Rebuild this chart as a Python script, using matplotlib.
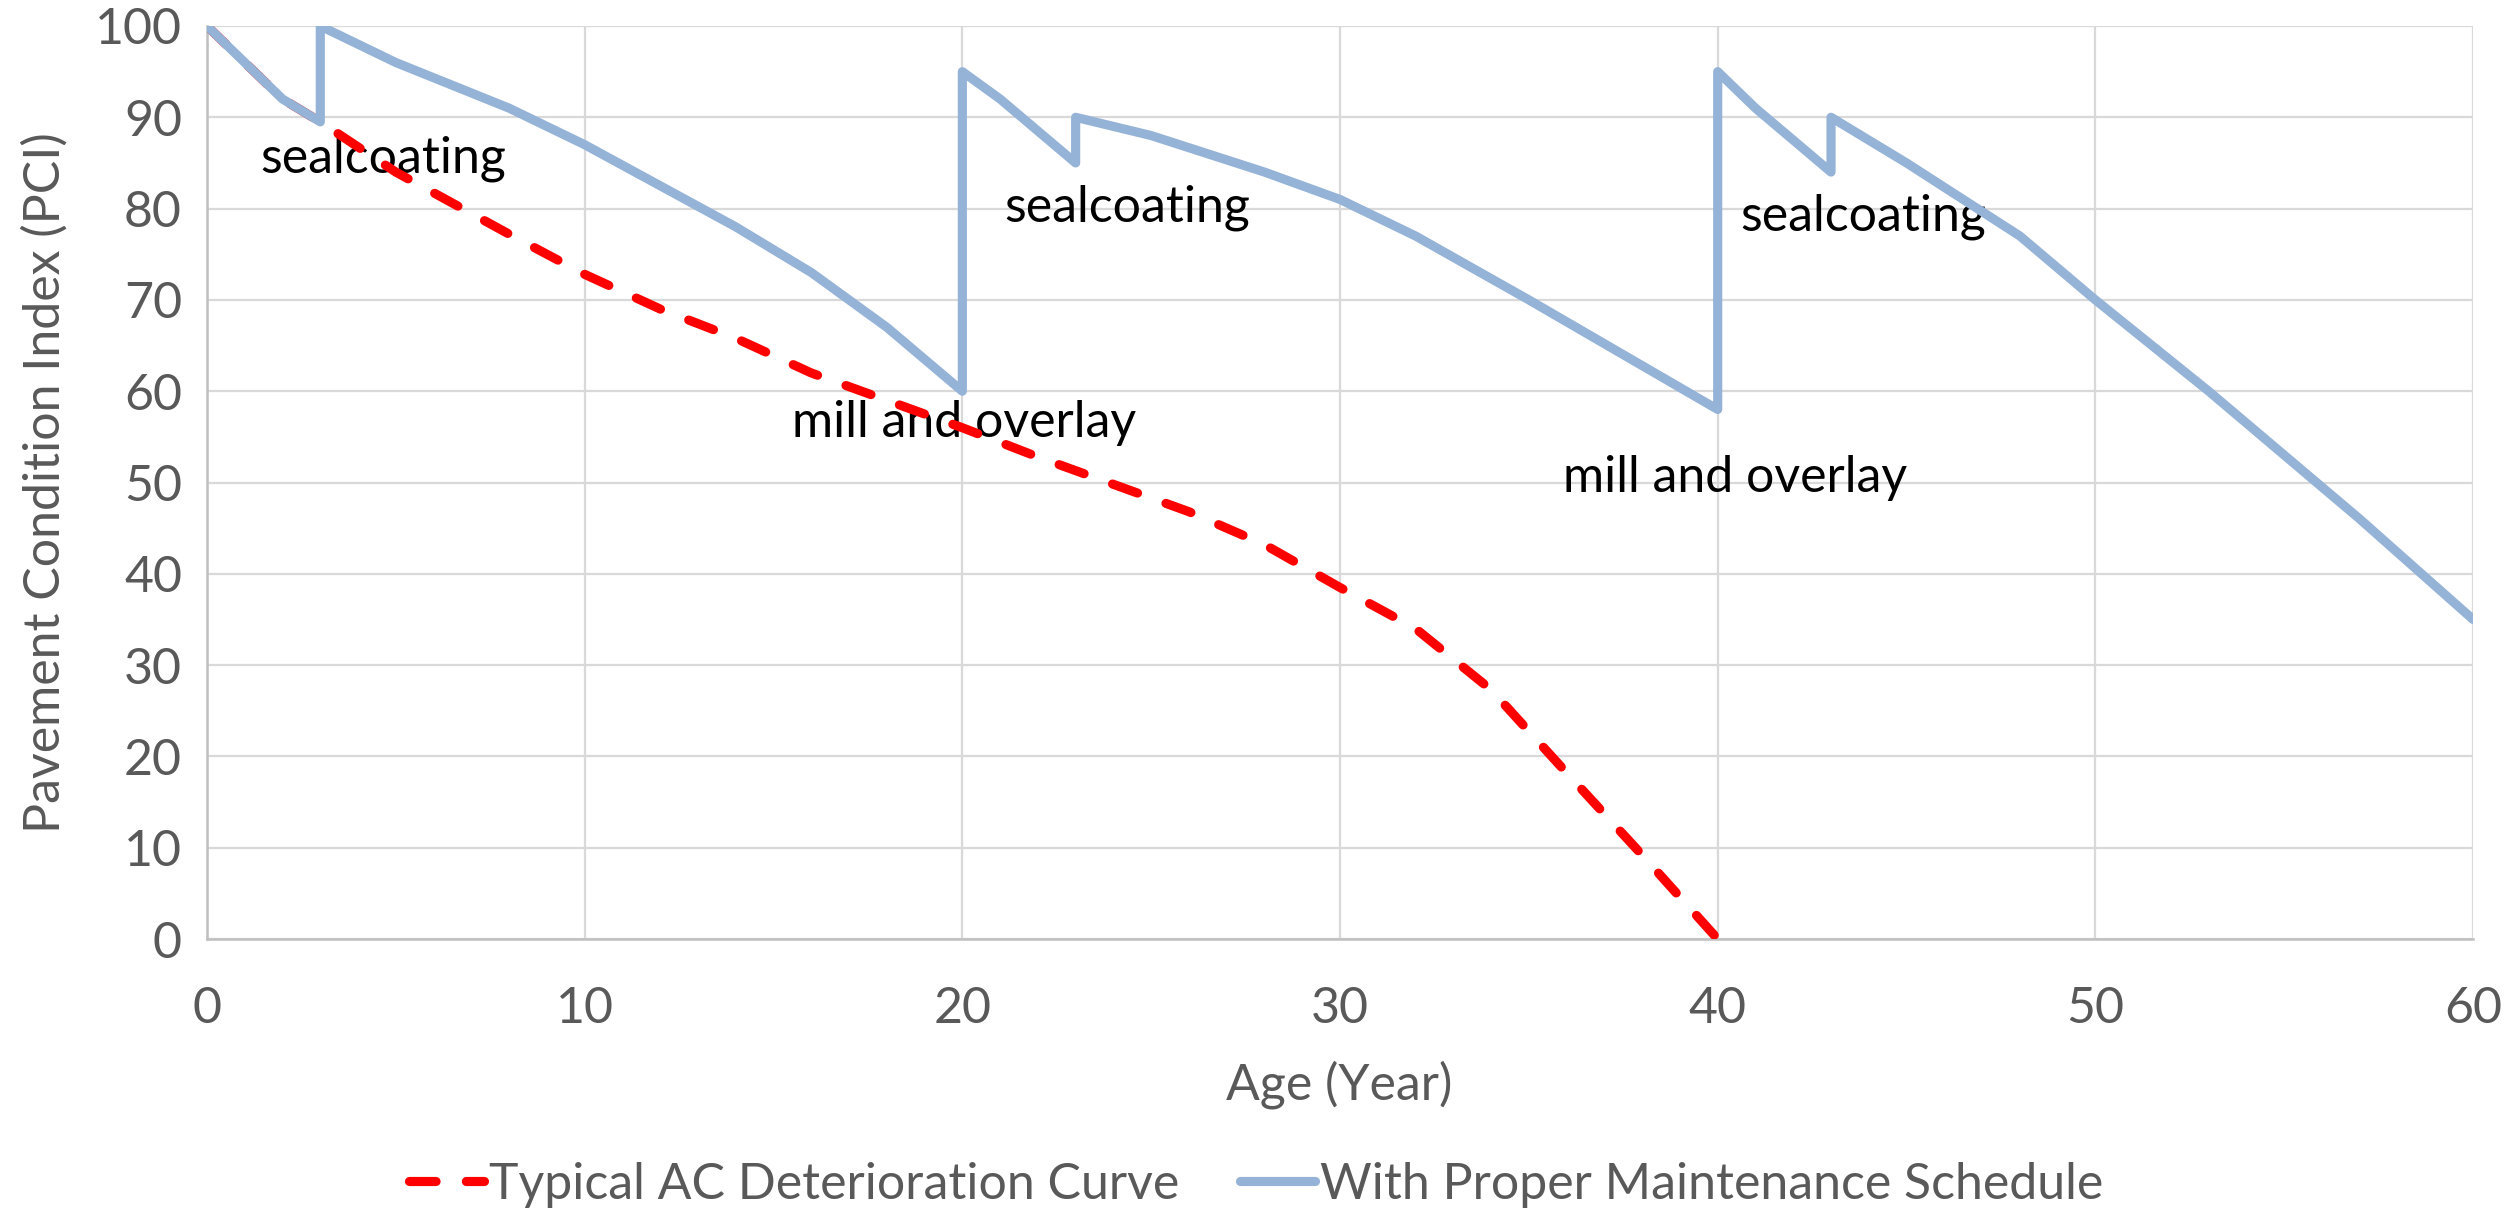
import matplotlib
matplotlib.use("Agg")
import matplotlib.pyplot as plt

# ---- data ----
typical_age = [0, 2, 3, 5, 8, 10, 12, 14, 16, 18, 20, 22, 24, 26, 28, 30, 32, 34, 36, 38, 40]
typical_pci = [100, 92, 89.5, 84, 77.2, 72.8, 69, 65.8, 62, 59, 56, 52.8, 49.8, 46.8, 43.2, 38.5, 34, 27.3, 18.2, 9.2, 0]

maint_age = [0, 2, 3, 3, 5, 8, 10, 14, 16, 18, 20, 20, 21, 23, 23, 25, 28, 30, 32, 35, 40,
             40, 41, 43, 43, 45, 48, 50, 53, 57, 60]
maint_pci = [100, 92, 89.5, 100, 96, 91, 87, 78, 73, 67, 60, 95, 92, 85, 90, 88, 84, 81, 77, 70, 58,
             95, 91, 84, 90, 85, 77, 70, 60, 46, 35]

series_labels = ["Typical AC Deterioration Curve", "With Proper Maintenance Schedule"]

annot_text = ["sealcoating", "sealcoating", "sealcoating", "mill and overlay", "mill and overlay"]
annot_x = [1.4, 21.1, 40.6, 15.5, 35.9]
annot_y = [83.9, 78.6, 77.6, 55.0, 49.0]

x_ticks = [0, 10, 20, 30, 40, 50, 60]
y_ticks = [0, 10, 20, 30, 40, 50, 60, 70, 80, 90, 100]

# ---- style ----
plt.rcParams['font.family'] = ['Lato', 'DejaVu Sans']
gray_txt = '#595959'
grid_c = '#d9d9d9'
fs = 18

fig = plt.figure(figsize=(12.56, 6.045), dpi=200)
ax = fig.add_axes([0.0824, 0.2233, 0.9845 - 0.0824, 0.9785 - 0.2233])

ax.plot(typical_age, typical_pci, color='#ff0000', lw=3.3, linestyle=(0, (2.9, 3.3)),
        dash_capstyle='round', solid_capstyle='round', zorder=3, label=series_labels[0])
ax.plot(maint_age, maint_pci, color='#95b3d7', lw=3.3, solid_joinstyle='round',
        solid_capstyle='round', zorder=4, label=series_labels[1])

for t, x, y in zip(annot_text, annot_x, annot_y):
    ax.text(x, y, t, fontsize=fs, color='black', ha='left', va='baseline', zorder=2)

ax.set_xlim(0, 60)
ax.set_ylim(0, 100)
ax.set_xticks(x_ticks)
ax.set_yticks(y_ticks)
ax.grid(True, color=grid_c, lw=0.8, zorder=0)
ax.set_axisbelow(True)
for s in ['top', 'right']:
    ax.spines[s].set_visible(False)
for s in ['left', 'bottom']:
    ax.spines[s].set_color('#bfbfbf')
    ax.spines[s].set_linewidth(0.9)
ax.tick_params(axis='both', length=0, labelsize=fs, labelcolor=gray_txt)
ax.tick_params(axis='x', pad=17)
ax.tick_params(axis='y', pad=9)

fig.text(45 / 2512, 0.601, "Pavement Condition Index (PCI)", rotation=90, ha='center', va='center',
         fontsize=fs, color=gray_txt)
fig.text(0.533, 1 - 1085 / 1209, "Age (Year)", ha='center', va='center', fontsize=fs, color=gray_txt)

leg = fig.legend(loc='center', bbox_to_anchor=(0.5, 0.02), ncol=2, frameon=False, fontsize=fs,
                 handlelength=1.5, handletextpad=0.1, columnspacing=1.2, borderaxespad=0)
for t in leg.get_texts():
    t.set_color(gray_txt)

fig.savefig("out.png", dpi=200)
